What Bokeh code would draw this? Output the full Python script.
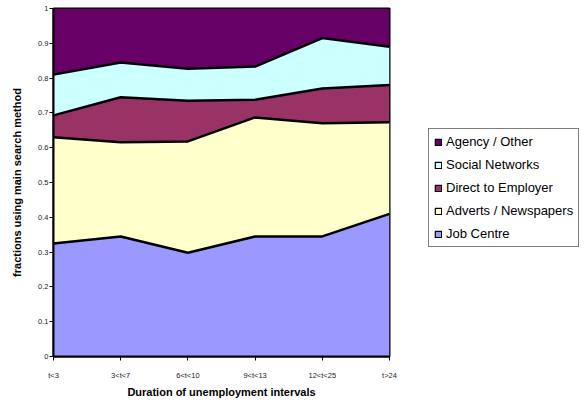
from bokeh.plotting import figure
from bokeh.models import ColumnDataSource, FixedTicker, Legend, LegendItem
from bokeh.embed import file_html
from bokeh.resources import INLINE

categories = ["t<3", "3<t<7", "6<t<10", "9<t<13", "12<t<25", "t>24"]
job_centre = [0.325, 0.345, 0.298, 0.345, 0.345, 0.41]
adverts = [0.305, 0.271, 0.320, 0.342, 0.325, 0.263]
direct = [0.063, 0.129, 0.117, 0.051, 0.100, 0.107]
social = [0.117, 0.100, 0.092, 0.095, 0.145, 0.110]
agency = [0.190, 0.155, 0.173, 0.167, 0.085, 0.110]

series = ["job", "adverts", "direct", "social", "agency"]
names = ["Job Centre", "Adverts / Newspapers", "Direct to Employer", "Social Networks", "Agency / Other"]
colors = ["#9999FF", "#FFFFCC", "#993366", "#CCFFFF", "#660066"]

x = list(range(len(categories)))
source = ColumnDataSource(dict(x=x, job=job_centre, adverts=adverts, direct=direct,
                               social=social, agency=agency))

FONT = "Liberation Sans"

p = figure(width=580, height=400, output_backend="svg", toolbar_location=None,
           x_range=(0, len(categories) - 1), y_range=(0, 1),
           frame_width=336, frame_height=348,
           min_border_left=53, min_border_top=8, min_border_bottom=44, min_border_right=10)
p.background_fill_color = "white"
p.border_fill_color = "white"
p.outline_line_color = "black"
p.outline_line_width = 2
p.xgrid.visible = False
p.ygrid.visible = False

p.varea_stack(stackers=series, x="x", color=colors, source=source)
p.vline_stack(stackers=series[:-1], x="x", color="black", line_width=2.5, source=source)

# legend proxies (no visible data)
nan = float("nan")
items = []
for name, col in zip(names, colors):
    r = p.quad(left=[nan], right=[nan], top=[nan], bottom=[nan],
               fill_color=col, line_color="black", line_width=1.2)
    items.append(LegendItem(label=name, renderers=[r]))
items = items[::-1]

legend = Legend(items=items, location=(39, 109))
legend.label_text_font = FONT
legend.label_text_font_size = "13px"
legend.label_text_color = "black"
legend.glyph_width = 8
legend.glyph_height = 8
legend.label_height = 15
legend.spacing = 8
legend.padding = 5
legend.margin = 0
legend.label_standoff = 4
legend.border_line_color = "black"
legend.border_line_width = 1
legend.background_fill_color = "white"
legend.background_fill_alpha = 1
p.add_layout(legend, "right")

p.xaxis.ticker = FixedTicker(ticks=x)
p.xaxis.major_label_overrides = {i: c for i, c in enumerate(categories)}
p.yaxis.ticker = FixedTicker(ticks=[0, 0.1, 0.2, 0.3, 0.4, 0.5, 0.6, 0.7, 0.8, 0.9, 1])
p.yaxis.major_label_overrides = {0: "0", 1: "1"}

for ax in (p.xaxis[0], p.yaxis[0]):
    ax.axis_line_color = "black"
    ax.axis_line_width = 2
    ax.major_tick_line_color = "black"
    ax.major_tick_in = 0
    ax.major_tick_out = 4
    ax.minor_tick_line_color = None
    ax.major_label_text_font = FONT
    ax.major_label_text_font_size = "7.5px"
    ax.major_label_text_color = "#222222"
    ax.axis_label_text_font = FONT
    ax.axis_label_text_font_style = "bold"
    ax.axis_label_text_font_size = "11px"
    ax.axis_label_text_color = "black"

p.xaxis.axis_label = "Duration of unemployment intervals"
p.yaxis.axis_label = "fractions using main search method"
p.xaxis.major_label_standoff = 10
p.xaxis.axis_label_standoff = 3
p.yaxis.major_label_standoff = 1
p.yaxis.axis_label_standoff = 12

open("out.html", "w").write(file_html(p, INLINE))
